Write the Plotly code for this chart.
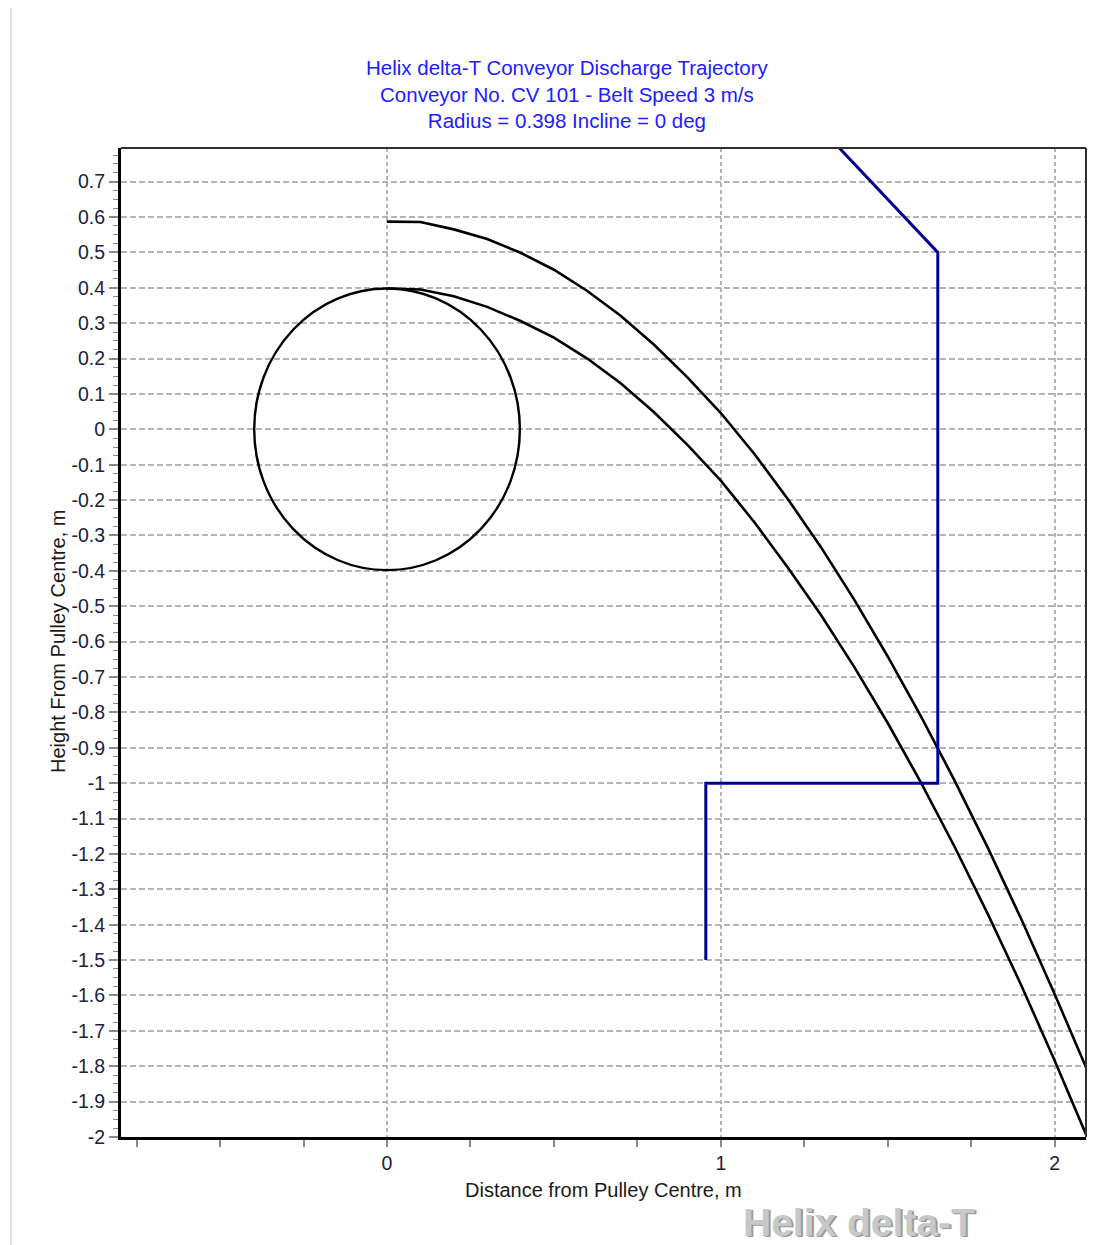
import plotly.graph_objects as go

# ---------------- data ----------------
title_lines = [
    "Helix delta-T Conveyor Discharge Trajectory",
    "Conveyor No. CV 101 - Belt Speed 3 m/s",
    "Radius = 0.398 Incline = 0 deg",
]
x_title = "Distance from Pulley Centre, m"
y_title = "Height From Pulley Centre, m"
watermark = "Helix delta-T"

pulley_radius = 0.398

traj_x = [0.0, 0.1, 0.2, 0.3, 0.4, 0.5, 0.6, 0.7, 0.8, 0.9, 1.0,
          1.1, 1.2, 1.3, 1.4, 1.5, 1.6, 1.7, 1.8, 1.9, 2.0, 2.1]
upper_y = [0.587, 0.586, 0.565, 0.538, 0.499, 0.451, 0.391, 0.321, 0.239, 0.147, 0.046,
           -0.069, -0.196, -0.333, -0.482, -0.642, -0.812, -0.992, -1.183, -1.384, -1.596, -1.816]
lower_y = [0.398, 0.395, 0.376, 0.346, 0.306, 0.259, 0.200, 0.130, 0.048, -0.044, -0.145,
           -0.262, -0.390, -0.525, -0.672, -0.830, -0.999, -1.179, -1.370, -1.571, -1.784, -2.006]

chute_x = [1.35, 1.65, 1.65, 0.955, 0.955]
chute_y = [0.80, 0.50, -1.00, -1.00, -1.50]

x_tick_labels = ["0", "1", "2"]
y_tick_labels = ["-2", "-1.9", "-1.8", "-1.7", "-1.6", "-1.5", "-1.4", "-1.3", "-1.2",
                 "-1.1", "-1", "-0.9", "-0.8", "-0.7", "-0.6", "-0.5", "-0.4", "-0.3",
                 "-0.2", "-0.1", "0", "0.1", "0.2", "0.3", "0.4", "0.5", "0.6", "0.7"]

# ---------------- figure ----------------
FONT = "Liberation Sans, Arial, sans-serif"
OFF = 8                      # page body margin
W, H = 1113 - OFF, 1245 - OFF
ML, MT = 121 - OFF, 148 - OFF
PW, PH = 965, 989
MR, MB = W - ML - PW, H - MT - PH

def px_to_paper(px, py):
    """page pixel -> paper coordinates"""
    fx, fy = px - OFF, py - OFF
    return (fx - ML) / PW, (MT + PH - fy) / PH

fig = go.Figure()

fig.add_trace(go.Scatter(x=traj_x, y=upper_y, mode="lines",
                         line=dict(color="black", width=2.6), hoverinfo="skip"))
fig.add_trace(go.Scatter(x=traj_x, y=lower_y, mode="lines",
                         line=dict(color="black", width=2.6), hoverinfo="skip"))
fig.add_trace(go.Scatter(x=chute_x, y=chute_y, mode="lines",
                         line=dict(color="#000090", width=3), hoverinfo="skip"))

# pulley
fig.add_shape(type="circle", xref="x", yref="y",
              x0=-pulley_radius, x1=pulley_radius, y0=-pulley_radius, y1=pulley_radius,
              line=dict(color="black", width=2.4))

# frame: thin top/right
fig.add_shape(type="line", xref="paper", yref="paper", x0=0, x1=1, y0=1, y1=1,
              line=dict(color="#303030", width=2))
fig.add_shape(type="line", xref="paper", yref="paper", x0=1, x1=1, y0=0, y1=1,
              line=dict(color="#303030", width=2))

# outer light border (left)
bx, by = px_to_paper(11, 8)
bx2, by2 = px_to_paper(1113, 1245)
fig.add_shape(type="line", xref="paper", yref="paper", x0=bx, x1=bx, y0=by2, y1=by,
              line=dict(color="#d4d4d4", width=1.5))

# title
tx, ty = px_to_paper(567, 94.5)
fig.add_annotation(text="<br>".join(title_lines), xref="paper", yref="paper",
                   x=tx, y=ty, xanchor="center", yanchor="middle", showarrow=False,
                   align="center", font=dict(family=FONT, size=20.5, color="#2020ff"))

# axis titles
ax, ay = px_to_paper(603, 1190)
fig.add_annotation(text=x_title, xref="paper", yref="paper", x=ax, y=ay,
                   xanchor="center", yanchor="middle", showarrow=False,
                   font=dict(family=FONT, size=20, color="#1a1a1a"))
yx, yy = px_to_paper(58, 642)
fig.add_annotation(text=y_title, xref="paper", yref="paper", x=yx, y=yy,
                   xanchor="center", yanchor="middle", showarrow=False, textangle=-90,
                   font=dict(family=FONT, size=20, color="#1a1a1a"))

# watermark with soft shadow
wx, wy = px_to_paper(859, 1222)
fig.add_annotation(text="<b>%s</b>" % watermark, xref="paper", yref="paper", x=wx, y=wy,
                   xshift=1.5, yshift=-1.5,
                   xanchor="center", yanchor="middle", showarrow=False,
                   font=dict(family=FONT, size=39, color="#9a9a9a"))
fig.add_annotation(text="<b>%s</b>" % watermark, xref="paper", yref="paper", x=wx, y=wy,
                   xanchor="center", yanchor="middle", showarrow=False,
                   font=dict(family=FONT, size=39, color="#c8c8c8"))

grid_color = "#b4b4b4"
fig.update_xaxes(
    range=[-0.797, 2.094], showline=True, linecolor="black", linewidth=3,
    tickmode="array", tickvals=[float(s) for s in x_tick_labels], ticktext=x_tick_labels,
    ticks="outside", ticklen=7, tickwidth=1.5, tickcolor="#8a8a8a",
    tickfont=dict(family=FONT, size=19.5, color="#202040"),
    showgrid=True, gridcolor=grid_color, gridwidth=1.5, griddash="4px,3px",
    minor=dict(tickmode="linear", tick0=0, dtick=0.25, ticks="outside", ticklen=7,
               tickwidth=1.5, tickcolor="#8a8a8a", showgrid=False),
    zeroline=False, fixedrange=True,
)
fig.update_yaxes(
    range=[-2.0, 0.795], showline=True, linecolor="black", linewidth=3,
    tickmode="array", tickvals=[float(s) for s in y_tick_labels], ticktext=y_tick_labels,
    ticks="outside", ticklen=9, tickwidth=1.5, tickcolor="#8a8a8a",
    tickfont=dict(family=FONT, size=19.5, color="#202040"),
    showgrid=True, gridcolor=grid_color, gridwidth=1.5, griddash="6px,3px",
    minor=dict(tickmode="linear", tick0=0, dtick=0.025, ticks="outside", ticklen=5,
               tickwidth=1.2, tickcolor="#8a8a8a", showgrid=False),
    zeroline=False, fixedrange=True,
)

fig.update_layout(
    width=W, height=H,
    margin=dict(l=ML, r=MR, t=MT, b=MB, pad=0),
    paper_bgcolor="white", plot_bgcolor="white",
    showlegend=False,
    font=dict(family=FONT),
)

fig.write_html("out.html")
